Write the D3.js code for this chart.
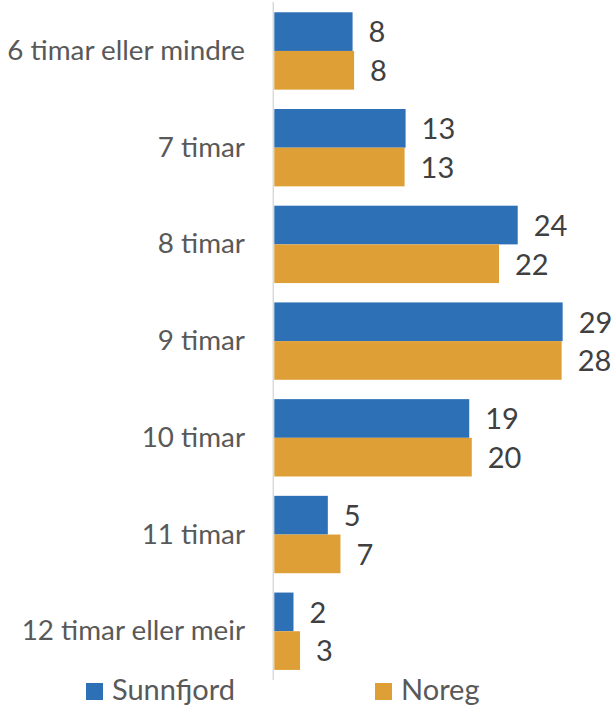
<!DOCTYPE html>
<html>
<head>
<meta charset="utf-8">
<script src="https://cdn.jsdelivr.net/npm/d3@7"></script>
<style>
  html, body { margin: 0; padding: 0; background: #fff; }
  svg { display: block; }
</style>
</head>
<body>
<svg id="chart" width="615" height="709"></svg>
<script>
const categories = ["6 timar eller mindre", "7 timar", "8 timar", "9 timar", "10 timar", "11 timar", "12 timar eller meir"];
const seriesNames = ["Sunnfjord", "Noreg"];
const sunnfjord = [7.75, 13.0, 24.1, 28.55, 19.3, 5.3, 1.9];
const noreg = [7.9, 12.9, 22.25, 28.45, 19.55, 6.55, 2.55];
const colors = ["#2e70b6", "#df9f37"];

const svg = d3.select("#chart");
const FONT = "Lato, 'Open Sans', sans-serif";

const x = d3.scaleLinear().domain([0, 30]).range([274.3, 577.3]);
const y = d3.scaleBand().domain(categories).range([2.6, 679.6]).paddingInner(0.2).paddingOuter(0.1);
const ySub = d3.scaleBand().domain(seriesNames).range([0, y.bandwidth()]);

const data = categories.map((c, i) => ({ cat: c, vals: [sunnfjord[i], noreg[i]] }));

// axis line
svg.append("line")
  .attr("x1", 273.3).attr("x2", 273.3)
  .attr("y1", 2).attr("y2", 680)
  .attr("stroke", "#d9d9d9").attr("stroke-width", 1.5);

const groups = svg.selectAll("g.grp").data(data).enter().append("g")
  .attr("class", "grp")
  .attr("transform", d => `translate(0,${y(d.cat)})`);

groups.selectAll("rect").data(d => d.vals.map((v, j) => ({ v, s: seriesNames[j], j })))
  .enter().append("rect")
  .attr("x", x(0))
  .attr("y", d => ySub(d.s))
  .attr("width", d => x(d.v) - x(0))
  .attr("height", ySub.bandwidth())
  .attr("fill", d => colors[d.j]);

const fmt = d3.format(".0f");
groups.selectAll("text.val").data(d => d.vals.map((v, j) => ({ v, s: seriesNames[j], j })))
  .enter().append("text")
  .attr("class", "val")
  .attr("x", d => x(d.v) + 16)
  .attr("y", d => ySub(d.s) + ySub.bandwidth() / 2 + 3.5)
  .attr("dominant-baseline", "middle")
  .attr("font-family", FONT)
  .attr("font-size", 29)
  .attr("fill", "#404040")
  .text(d => fmt(d.v));

// category labels
svg.selectAll("text.cat").data(categories).enter().append("text")
  .attr("class", "cat")
  .attr("x", 245)
  .attr("y", d => y(d) + y.bandwidth() / 2 + 2)
  .attr("text-anchor", "end")
  .attr("dominant-baseline", "middle")
  .attr("font-family", FONT)
  .attr("font-size", 27.8)
  .attr("fill", "#595959")
  .text(d => d);

// legend
const legendX = [86, 375];
const leg = svg.selectAll("g.leg").data(seriesNames).enter().append("g")
  .attr("class", "leg")
  .attr("transform", (d, i) => `translate(${legendX[i]},683)`);
leg.append("rect").attr("width", 17).attr("height", 17).attr("fill", (d, i) => colors[i]);
leg.append("text")
  .attr("x", 26).attr("y", 10)
  .attr("dominant-baseline", "middle")
  .attr("font-family", FONT)
  .attr("font-size", 29)
  .attr("fill", "#595959")
  .text(d => d);
</script>
</body>
</html>
